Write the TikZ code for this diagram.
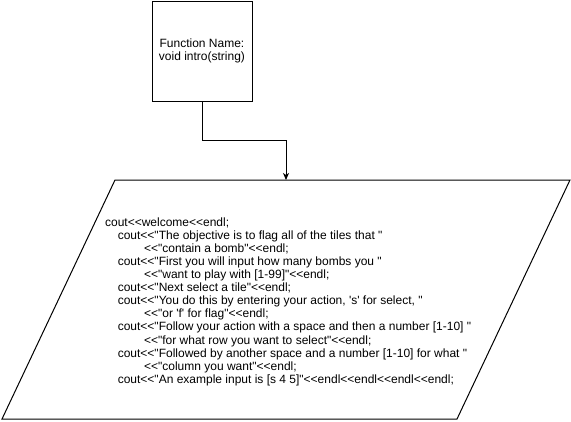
\documentclass[tikz,border=0pt]{standalone}
\usepackage{fontspec}
\newfontfamily\arial{Liberation Sans}[Ligatures=TeXOff]
\usetikzlibrary{arrows.meta}
\newcommand\lbl{\arial\fontsize{12}{13.1}\selectfont}
\newcommand\ia{\hspace*{12.7pt}}
\newcommand\ib{\hspace*{39pt}}
\begin{document}
\begin{tikzpicture}[x=1pt,y=-1pt,line width=1pt,
  fnbox/.style={draw,inner sep=0pt,minimum width=100pt,minimum height=100pt,align=center,font=\lbl},
  codetext/.style={inner sep=0pt,align=left,font=\lbl,anchor=north west},
  conn/.style={-{Stealth[length=7pt,width=6pt,inset=2pt]}}]
\fill[white] (0,0) rectangle (571,421);
\useasboundingbox (0,0) rectangle (571,421);
\node[fnbox] (fn) at (202,51) {Function Name:\\void intro(string)};
\coordinate (pa) at (115,180);
\coordinate (pb) at (570,180);
\coordinate (pc) at (457,419);
\coordinate (pd) at (2,419);
\draw (pa) -- (pb) -- (pc) -- (pd) -- cycle;
\coordinate (pin) at (286,180);
\coordinate (bend) at (286,140);
\draw[conn] (fn.south) |- (bend) -- (pin);
\node[codetext] (code) at (104.6,216.9) {cout<<welcome<<endl;\\
\ia cout<<"The objective is to flag all of the tiles that "\\
\ib <<"contain a bomb"<<endl;\\
\ia cout<<"First you will input how many bombs you "\\
\ib <<"want to play with [1-99]"<<endl;\\
\ia cout<<"Next select a tile"<<endl;\\
\ia cout<<"You do this by entering your action, 's' for select, "\\
\ib <<"or 'f' for flag"<<endl;\\
\ia cout<<"Follow your action with a space and then a number [1-10] "\\
\ib <<"for what row you want to select"<<endl;\\
\ia cout<<"Followed by another space and a number [1-10] for what "\\
\ib <<"column you want"<<endl;\\
\ia cout<<"An example input is [s 4 5]"<<endl<<endl<<endl<<endl;};
\end{tikzpicture}
\end{document}
